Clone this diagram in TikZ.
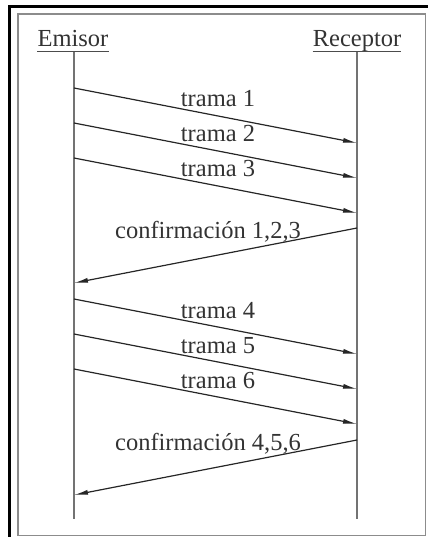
\documentclass[tikz,border=0pt]{standalone}
\usepackage{fontspec}
\setmainfont{Liberation Serif}
\usetikzlibrary{arrows.meta}

\tikzset{
  msg/.style={line width=1.2pt, color=black!85, -{Latex[length=14pt,width=5pt]}},
  lbl/.style={anchor=base, inner sep=0pt, text=black!80, font=\fontsize{24.5}{29}\selectfont},
  life/.style={line width=1.5pt, color=black!55}
}

\begin{document}
\begin{tikzpicture}[x=1pt,y=-1pt]

\useasboundingbox (0,0) rectangle (428,537);

\draw[line width=3pt] (9,537)--(9,6.5)--(428,6.5);
\draw[color=black!45, line width=1.5pt] (18,14) rectangle (425.5,535.5);

\node[lbl] (emisor) at (73,47) {Emisor};
\node[lbl] (receptor) at (357,47) {Receptor};

\draw[line width=1.2pt, color=black!70] ([yshift=-4.5pt]emisor.base west)--([yshift=-4.5pt]emisor.base east);
\draw[line width=1.2pt, color=black!70] ([yshift=-4.5pt]receptor.base west)--([yshift=-4.5pt]receptor.base east);

\coordinate (emisor top) at (74,52);
\coordinate (emisor end) at (74,519);
\coordinate (receptor top) at (357,52);
\coordinate (receptor end) at (357,519);

\draw[life] (emisor top)--(emisor end);
\draw[life] (receptor top)--(receptor end);

\foreach \n/\y in {1/88,2/123,3/158,4/299,5/334,6/369}{
	\coordinate (s\n) at (74,\y);
	\coordinate (r\n) at (357,\y+55);
	\draw[msg] (s\n)--(r\n);
	\node[lbl] (trama\n) at (218,\y+19) {trama \n};
}

\foreach \n/\y/\t in {1/228/{1,2,3},2/440/{4,5,6}}{
	\coordinate (cr\n) at (357,\y);
	\coordinate (ce\n) at (74,\y+55);
	\draw[msg] (cr\n)--(ce\n);
	\node[lbl] (conf\n) at (208,\y+10) {confirmación \t};
}

\end{tikzpicture}
\end{document}
